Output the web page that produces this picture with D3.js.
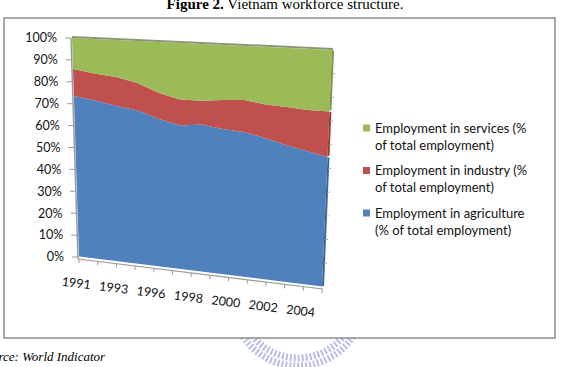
<!DOCTYPE html>
<html>
<head>
<meta charset="utf-8">
<script src="https://cdn.jsdelivr.net/npm/d3@7"></script>
<style>
body { margin: 0; background: #fff; }
svg { display: block; }
</style>
</head>
<body>
<svg id="viz"></svg>
<script>
var years = ["1991", "1992", "1993", "1995", "1996", "1997", "1998", "1999", "2000", "2001", "2002", "2003", "2004"];
var agriculture = [73.5, 72.1, 70.3, 68.9, 65.8, 63.6, 64.7, 63.4, 62.8, 60.9, 58.5, 56.7, 54.9];
var industry = [12.3, 12.3, 13.0, 12.3, 11.5, 11.5, 10.4, 12.6, 13.8, 14.4, 16.3, 17.4, 19.2];
var services = [14.2, 15.6, 16.7, 18.8, 22.7, 24.9, 24.9, 24.0, 23.4, 24.7, 25.2, 25.9, 25.9];
var yTicks = [0, 10, 20, 30, 40, 50, 60, 70, 80, 90, 100];
var shownYears = ["1991", "1993", "1996", "1998", "2000", "2002", "2004"];
var legendItems = [
    {key: "services", lines: ["Employment in services (%", "of total employment)"]},
    {key: "industry", lines: ["Employment in industry (%", "of total employment)"]},
    {key: "agriculture", lines: ["Employment in agriculture", "(% of total employment)"]}
];

var width = 570, height = 367;
var color = {agriculture: "#4f81bd", industry: "#c0504d", services: "#9bbb59"};
var sideColor = {agriculture: "#3a6497", industry: "#943c3a", services: "#7a9445"};

// corners of the slanted plot face
var TL = [72, 38], TR = [332, 50], BL = [79, 257], BR = [322, 287];

function project(t, v) {
    var bx = BL[0] + (BR[0] - BL[0]) * t, by = BL[1] + (BR[1] - BL[1]) * t;
    var tx = TL[0] + (TR[0] - TL[0]) * t, ty = TL[1] + (TR[1] - TL[1]) * t;
    return [bx + (tx - bx) * v, by + (ty - by) * v];
}

var x = d3.scalePoint().domain(years).range([0, 1]);
var band = d3.scaleBand().domain(years).range([0, 1]);
var y = d3.scaleLinear().domain([0, 100]).range([0, 1]);

var table = years.map(function(yr, i) {
    return {year: yr, agriculture: agriculture[i], industry: industry[i], services: services[i]};
});
var stack = d3.stack().keys(["agriculture", "industry", "services"]);
var layers = stack(table);

var svg = d3.select("#viz").attr("width", width).attr("height", height);
var line = d3.line();

// title (cut at the top of the page, as in the scan)
var title = svg.append("text")
    .attr("x", 285).attr("y", 9)
    .attr("text-anchor", "middle")
    .style("font-family", "Liberation Serif")
    .style("font-size", "15px");
title.append("tspan").style("font-weight", "bold").text("Figure 2.");
title.append("tspan").text(" Vietnam workforce structure.");

// watermark arc below the frame
svg.append("path")
    .attr("d", d3.arc()({innerRadius: 58, outerRadius: 66, startAngle: Math.PI * 0.55, endAngle: Math.PI * 1.45}))
    .attr("transform", "translate(298,300)")
    .attr("fill", "none")
    .attr("stroke", "#b9bdea")
    .attr("stroke-width", 7)
    .attr("stroke-dasharray", "2 2");

// frame
svg.append("rect")
    .attr("x", 4).attr("y", 18)
    .attr("width", 551).attr("height", 320)
    .attr("fill", "#fff")
    .attr("stroke", "#8c8c8c")
    .attr("stroke-width", 1.5);

// areas
svg.append("g").selectAll("path")
    .data(layers).enter()
    .append("path")
    .attr("fill", function(d) { return color[d.key]; })
    .attr("d", function(d) {
        var top = d.map(function(p) { return project(x(p.data.year), y(p[1])); });
        var bottom = d.map(function(p) { return project(x(p.data.year), y(p[0])); }).reverse();
        return line(top.concat(bottom)) + "Z";
    });

// right side face
svg.append("g").selectAll("line")
    .data(layers).enter()
    .append("line")
    .each(function(d) {
        var last = d[d.length - 1];
        var a = project(1, y(last[0])), b = project(1, y(last[1]));
        d3.select(this)
            .attr("x1", a[0] + 1).attr("y1", a[1] - 1)
            .attr("x2", b[0] + 1).attr("y2", b[1] + 0.5);
    })
    .attr("stroke", function(d) { return sideColor[d.key]; })
    .attr("stroke-width", 2);

// top edge of the area
var topEdge = [project(0, 1), project(1, 1)];
svg.append("path")
    .attr("d", line([[topEdge[0][0], topEdge[0][1] - 1], [topEdge[1][0] + 1, topEdge[1][1] - 1]]))
    .attr("stroke", "#8a9777").attr("stroke-width", 2).attr("fill", "none");

// floor highlight and x axis
var b0 = project(0, 0), b1 = project(1, 0);
svg.append("line")
    .attr("x1", b0[0]).attr("y1", b0[1] + 0.5).attr("x2", b1[0]).attr("y2", b1[1] + 0.5)
    .attr("stroke", "#fff").attr("stroke-width", 2);
svg.append("line")
    .attr("x1", b0[0] - 1).attr("y1", b0[1] + 2).attr("x2", b1[0] + 1).attr("y2", b1[1] + 2)
    .attr("stroke", "#9a9a9a").attr("stroke-width", 1.2);

var edges = years.map(function(yr) { return band(yr); }).concat([1]);
svg.append("g").selectAll("line")
    .data(edges).enter()
    .append("line")
    .each(function(t) {
        var p = project(t, 0);
        d3.select(this).attr("x1", p[0]).attr("y1", p[1] + 2).attr("x2", p[0]).attr("y2", p[1] + 6);
    })
    .attr("stroke", "#9a9a9a").attr("stroke-width", 1);

var angle = Math.atan2(BR[1] - BL[1], BR[0] - BL[0]) * 180 / Math.PI;
svg.append("g").selectAll("text")
    .data(shownYears).enter()
    .append("text")
    .each(function(yr) {
        var p = project(band(yr) + band.bandwidth() / 2, 0);
        var lx = p[0] - 12, ly = p[1] + 25;
        d3.select(this).attr("x", lx).attr("y", ly)
            .attr("transform", "rotate(" + angle + "," + lx + "," + ly + ")");
    })
    .attr("text-anchor", "middle")
    .attr("dy", "0.35em")
    .style("font-family", "Lato")
    .style("font-size", "12.5px")
    .attr("fill", "#111")
    .text(function(d) { return d; });

// y axis on the left wall
var a0 = project(0, 0), a1 = project(0, 1);
svg.append("line")
    .attr("x1", a0[0] - 1).attr("y1", a0[1] + 2).attr("x2", a1[0] - 1).attr("y2", a1[1])
    .attr("stroke", "#9a9a9a").attr("stroke-width", 1.5);

var yAxis = svg.append("g").selectAll("g")
    .data(yTicks).enter()
    .append("g")
    .attr("transform", function(d) {
        var p = project(0, y(d));
        return "translate(" + (p[0] - 1) + "," + p[1] + ")";
    });
yAxis.append("line")
    .attr("x1", -6).attr("x2", 0)
    .attr("stroke", "#9a9a9a").attr("stroke-width", 1);
yAxis.append("text")
    .attr("x", -14).attr("dy", "0.35em")
    .attr("text-anchor", "end")
    .style("font-family", "Lato")
    .style("font-size", "12.5px")
    .attr("fill", "#111")
    .text(function(d) { return d + "%"; });

// small ticks on the right edge
svg.append("g").selectAll("line")
    .data(yTicks.slice(1, 10)).enter()
    .append("line")
    .each(function(d) {
        var p = project(1, y(d));
        d3.select(this).attr("x1", p[0] + 1).attr("y1", p[1]).attr("x2", p[0] + 4).attr("y2", p[1]);
    })
    .attr("stroke", "#aaa").attr("stroke-width", 1);

// legend
var legend = svg.append("g").selectAll("g")
    .data(legendItems).enter()
    .append("g")
    .attr("transform", function(d, i) { return "translate(363," + (128 + i * 42.5) + ")"; });
legend.append("rect")
    .attr("x", 0).attr("y", -3.5).attr("width", 7).attr("height", 7)
    .attr("fill", function(d) { return color[d.key]; });
legend.append("text")
    .style("font-family", "Lato")
    .style("font-size", "13px")
    .attr("fill", "#111")
    .selectAll("tspan")
    .data(function(d) { return d.lines; }).enter()
    .append("tspan")
    .attr("x", 12)
    .attr("y", function(d, i) { return i * 17; })
    .attr("dy", "0.35em")
    .text(function(d) { return d; });

// source note, clipped at the left edge of the page
svg.append("text")
    .attr("x", -21).attr("y", 361)
    .style("font-family", "Liberation Serif")
    .style("font-style", "italic")
    .style("font-size", "13px")
    .text("Source: World Indicator");
</script>
</body>
</html>
